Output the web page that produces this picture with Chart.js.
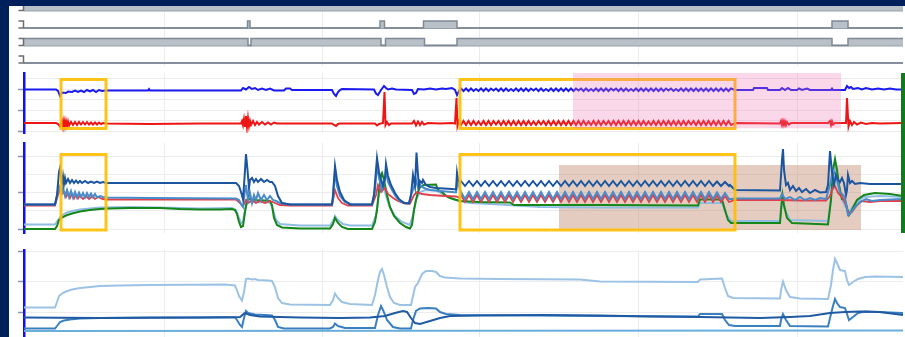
<!DOCTYPE html>
<html>
<head>
<meta charset="utf-8">
<script src="https://cdn.jsdelivr.net/npm/chart.js@4.4.1/dist/chart.umd.min.js"></script>
<style>
  html, body { margin: 0; padding: 0; }
  body { width: 905px; height: 337px; background: #00205b; position: relative; overflow: hidden; }
  #sheet { position: absolute; left: 9px; top: 6px; width: 896px; height: 331px; background: #fff; overflow: hidden; }
  .panel { position: absolute; left: 0; }
  #right_axis { position: absolute; left: 892px; top: 67px; width: 4px; height: 160px; background: #157a1a; }
</style>
</head>
<body>
<div id="sheet">
  <canvas id="chart_signals" class="panel" style="top:0px" width="896" height="62"></canvas>
  <canvas id="chart_rate" class="panel" style="top:64px" width="896" height="66"></canvas>
  <canvas id="chart_press" class="panel" style="top:132px" width="896" height="98"></canvas>
  <canvas id="chart_flow" class="panel" style="top:234px" width="896" height="110"></canvas>
  <div id="right_axis"></div>
</div>
<script>
// time axis (samples)
const timeMin = 0, timeMax = 879;
const gridTimes = [140, 298, 456, 614, 773];

// windows marked on the recording
const yellowWindows = [[37, 82], [436, 711]];
const pinkWindow = [549, 817];
const brownWindow = [535, 837];

// ---- panel 1: digital states, one row per signal ----
const rowOffsets = [52.5, 35, 17.5, 0];
const rowHeight = 7;
const sigRow0 = [[0, 1], [879, 1]];
const sigRow1 = [[0, 0], [223.5, 1], [226, 0], [356, 1], [360.5, 0], [399.5, 1], [433, 0], [808, 1], [824, 0], [879, 0]];
const sigRow2 = [[0, 1], [224, 0], [227, 1], [357, 0], [361.5, 1], [400.5, 0], [433, 1], [808, 0], [824, 1], [879, 1]];
const sigRow3 = [[0, 0], [879, 0]];

// ---- panel 2 ----
const p2Ticks = [0, 10.5, 21, 31.5, 42, 52.5];
const p2Major = [0, 21, 42];
const oscStart = 437;
const p2OscStep = 2.5;
const p2BluePre = [[0,41.5],[32,41.5],[34,40],[36,35],[38,38.5],[42,38],[44,39.5],[48,39],[51,40.5],[54,39],[57,40.5],[60,39],[63,41],[66,39.5],[69,41],[72,39],[75,41],[78,40],[82,40.5],[124,40.5],[125,42],[126,40.5],[217,40.5],[219,43],[222,41.5],[225,44],[228,42],[231,43],[234,41],[238,42.5],[242,41],[246,42.5],[250,40.5],[260,40.5],[262,42.5],[266,42.5],[268,41],[308,41],[310,37],[312,35],[314,39],[316,41],[318,42],[350,41.5],[352,37.5],[354,36],[357,41],[360,45],[362,43],[364,41.5],[368,42.5],[372,41.5],[388,41],[390,37],[392,38],[394,42],[400,41.5],[406,42.5],[412,41.5],[418,42.5],[422,42],[428,43],[431,41],[433,36],[435,40]];
const p2BlueOsc = [
  42.5,40,42.5,40,42.5,40,42,40,42.5,40,
  42.5,40,42.5,40.5,42.5,40,42.5,40,42.5,40,
  42,40,42.5,40,42.5,40,42.5,40,42.5,40.5,
  42.5,40,42.5,40,42,40,42.5,40,42.5,40,
  42.5,40,42.5,40,42.5,40,42.5,40.5,42.5,40,
  42.5,40,42,40,42.5,40,42.5,40,42.5,40,
  42.5,40.5,42.5,40,42.5,40,42.5,40,42,40,
  42.5,40,42.5,40,42.5,40,42.5,40,42.5,40,
  42.5,40,42.5,40.5,42.5,40,42,40,42.5,40,
  42.5,40,42.5,40,42.5,40,42.5,40,42.5,40,
  42.5,40,42.5,40,42.5,40,42.5,40,42.5];
const p2BluePost = [[711,41],[729,41],[730,43],[743,43],[744,41],[756,41],[758,43],[761,41],[764,43],[767,41],[773,41],[775,42.5],[778,41],[783,42.5],[786,41],[807,41],[808,42.5],[809,41],[821,41],[823,45],[825,43],[827,44],[829,42],[834,43],[838,41.5],[842,43],[848,41.5],[854,42.5],[860,41.5],[866,42.5],[872,41.5],[879,41.5]];
const p2RedPre = [[0,8],[32,8],[34,7],[36,4.5],[38,10],[39,4],[40,10.5],[41,4.5],[42,10],[43,5],[44,9.5],[45,5.5],[47,9],[49,6],[51,9],[53,6],[55,9],[57,6.5],[59,9],[61,6.5],[63,9],[65,6.5],[67,8.5],[69,6.5],[71,8.5],[73,6.5],[75,8.5],[77,7],[79,8],[82,7.5],[126,7],[176,7.5],[217,7.5],[218,10],[219,6],[220,12],[221,5],[222,15],[223,4],[224,13],[225,5],[226,10],[227,6],[229,10],[231,6],[233,9],[235,6.5],[238,9],[241,6.5],[244,8.5],[247,6.5],[250,8.5],[253,7.5],[308,7.5],[310,6],[312,5],[314,7],[316,7.5],[351,7.5],[353,5.5],[355,7],[359,8],[360.5,39],[361.5,6],[363,9],[365,6],[367,7.5],[388,7.5],[390,10],[392,5.5],[394,9.5],[396,6],[398,9],[400,6.5],[404,8],[416,7.5],[428,8],[431,7.5],[432.5,33],[433.5,5],[435,10]];
const p2RedOsc = [
  6,10,6,10,6,10,6,9.5,6,10,
  6,10,6,10,6.5,10,6,10,6,10,
  6,10,6,10,6,10,6,10,6,9.5,
  6,10,6.5,10,6,10,6,10,6,10,
  6,10,6,10,6,10,6,10,6,10,
  6,9.5,6,10,6,10,6,10,6.5,10,
  6,10,6,10,6,10,6,10,6,10,
  6,10,6,10,6,9.5,6,10,6,10,
  6,10,6,10,6,10,6,10,6,10,
  6,10,6.5,10,6,10,6,10,6,10,
  6,10,6,10,6,10,6,10,6];
const p2RedPost = [[711,8],[756,7.5],[757,10],[758,6],[759,10],[760,6],[761,9.5],[762,6],[763,9],[765,6.5],[767,8],[804,8],[806,10],[807,6],[808,9.5],[809,6.5],[811,8],[822,8],[823,33],[824.5,4.5],[826,10],[828,6],[830,9],[833,6.5],[837,8.5],[842,7],[848,8],[856,7.5],[879,8]];

// ---- panel 3 ----
const p3Ticks = [0, 18.25, 36.5, 54.75, 73];
const p3Major = [0, 36.5, 73];
const p3OscStep = 4;
const p3DarkPre = [[0,24.5],[31,24.5],[33,34],[35,57],[36,61],[37,54],[38,46],[39,53],[40,45],[41,51],[42,46],[44,50],[46,46],[48,49],[50,46],[52,48.5],[54,46],[56,48],[58,46],[61,48],[64,46],[67,47.5],[70,46],[73,47.5],[76,46],[79,47],[82,46],[212,46],[215,43],[217,37],[219,30],[220.5,51],[222,75],[223.5,59],[225,41],[226,49],[228,51],[230,47],[232,50],[234,47],[237,50],[240,47],[243,49],[246,47],[248,47],[251,43],[254,33],[258,26],[266,24.5],[308,24.5],[309,34],[311,63],[313,49],[316,37],[320,29],[326,24.5],[348,24.5],[350,34],[353,71],[355,57],[357,49],[359,43],[361,51],[362,65],[364,53],[367,44],[371,36],[375,30],[380,26],[385,25.5],[387,34],[389,54],[391,43],[392.5,76.5],[394,54],[395,43],[396,48],[398,46],[399,49],[402,44],[406,42],[412,41],[420,40.5],[428,40],[432,39.5],[433,56],[434,49],[436,46]];
const p3DarkOsc = [
  48,43,48,43,48,43,48,43,48,43,48,43,48,43,48,43,48,43,48,43,
  48,43,48,43,48,43,48,43,48,43,48,43,48,43,48,43,48,43,48,43,
  48,43,48,43,48,43,48,43,48,43,48,43,48,43,48,43,48,43,48,43,
  48,43,48,43,47.5,43,47,43];
const p3DarkPost = [[706,44],[711,39],[756,38.5],[758,69],[759,80],[760,59],[762,44],[764,46],[766,39],[769,43],[772,38],[775,41],[778,37],[782,40],[786,36],[791,39],[796,36.5],[802,37],[804,44],[806,78],[808,57],[810,44],[812,54],[814,49],[816,47],[818,51],[820,46],[822,34],[823,39],[824,54],[826,46],[828,48],[831,45],[836,46],[846,45],[879,45]];
const p3MidPre = [[0,24.5],[31,24.5],[33,33],[35,43],[36,41],[38,37],[39,41],[41,33],[43,39],[45,32],[47,38],[49,31.5],[51,37],[53,31.5],[55,36.5],[57,32],[59,36],[61,31.5],[63,36],[65,32],[67,35.5],[69,32],[71,35],[73,31.5],[76,33],[79,32],[82,31.5],[126,31],[212,30.5],[215,29],[217,25],[219,22],[221,39],[222,44],[224,29],[226,36],[228,26],[230,34],[232,29],[234,36],[237,29],[240,34],[243,29],[246,33],[249,29],[252,28],[256,26],[266,24.5],[308,24.5],[309,31],[311,57],[313,43],[316,33],[321,27],[328,24.5],[348,24.5],[351,39],[353,64],[355,51],[358,39],[361,49],[362,59],[364,47],[368,39],[372,32],[376,28],[381,26],[385,26],[387,34],[389,39],[392,49],[394,41],[396,44],[400,41],[406,39],[416,38],[428,37],[432,36.5],[434,49],[436,39]];
const p3MidOsc = [
  37,30,37,30,37,30,37,30,37,30,37,30,37,30,37,30,37,30,37,30,
  37,30,37,30,37,30,37,30,37,30,37,30,37,30,37,30,37,30,37,30,
  37,30,37,30,37,30,37,30,37,30,37,30,37,30,37,30,37,30,37,30,
  37,30,37,30,36.5,30,36,30];
const p3MidPost = [[708,30],[711,30.5],[756,30.5],[758,35],[761,30],[766,32],[771,29],[776,32],[781,29],[786,31],[791,29],[796,31],[802,30],[806,44],[809,59],[812,54],[816,37],[820,33],[822,26],[824,14],[826,15],[831,22],[836,27],[842,30],[848,28],[856,29],[879,30]];
const p3RedPre = [[0,23.5],[31,23.5],[34,34],[36,39],[38,35],[40,37],[42,32],[44,36],[46,31],[48,35],[50,30.5],[52,34],[54,30.5],[56,33.5],[59,30],[62,33],[65,30],[68,32.5],[71,30],[74,32],[78,30],[82,29.5],[212,29.5],[216,26],[219,23],[222,29],[224,26],[228,29],[232,26],[236,28],[241,26],[246,28],[251,26],[256,24],[266,23.5],[308,23.5],[311,39],[314,31],[318,26],[324,23.5],[348,23.5],[352,34],[354,44],[357,37],[361,41],[364,35],[369,31],[374,28],[381,25.5],[386,25.5],[390,34],[393,37],[398,35],[406,34],[421,33],[432,32.5],[436,31]];
const p3RedOsc = [
  34,27,34,27,34,27,34,27,34,27,34,27,34,27,34,27,34,27,34,27,
  34,27,34,27,34,27,34,27,34,27,34,27,34,27,34,27,34,27,34,27,
  34,27,34,27,34,27,34,27,34,27,34,27,34,27,34,27,34,27,34,27,
  34,27,34,27,33.5,27,33,27];
const p3RedPost = [[711,29],[756,29],[776,28.5],[802,28.5],[806,33],[810,45],[814,36],[818,32],[822,24],[824,16],[828,17],[833,24],[838,28],[846,27],[856,28],[879,28]];
const p3Green = [[0,0],[31,0],[33,3],[35,9],[38,11.5],[42,13.5],[48,15.5],[56,17.5],[66,19],[76,20],[86,20.5],[106,21],[136,21],[156,20],[176,19.5],[196,19.5],[208,20],[211,19],[213,15],[215,7],[217,2],[219,3],[221,17],[223,29],[225,30],[228,29.5],[232,29],[241,28.5],[246,28],[248,24],[250,11],[253,4],[258,1.5],[276,0.5],[306,0.5],[309,5],[311,11],[314,6],[318,2],[324,0],[348,0],[351,7],[353,19],[355,39],[357,54],[358,56],[360,49],[363,34],[366,22],[370,13],[376,6],[382,2],[386,0.5],[388,4],[390,19],[392,29],[394,37],[396,42],[400,44],[412,44.5],[414,39],[418,37],[422,33],[426,31],[431,29.5],[436,28],[456,27],[486,26.5],[490,24],[576,24],[674,23.5],[676,29.5],[698,29.5],[701,19],[704,9],[707,6],[756,6],[757,19],[758.5,34],[760,24],[763,11],[768,6],[804,4.5],[807,29],[809,59],[811,70],[813,59],[815,44],[818,30],[821,29],[823,21],[825,14],[828,19],[833,29],[840,34],[851,36],[866,35],[879,33]];
const p3Light = [[0,4.5],[31,4.5],[34,9],[37,13],[42,16],[48,18],[56,19.5],[66,20.5],[76,21.5],[106,22],[136,21.5],[176,20.5],[208,21],[212,19],[215,11],[217,6],[219,7],[221,19],[223,26],[226,27],[246,26.5],[249,19],[252,9],[256,5],[276,3.5],[306,3.5],[309,8],[311,13],[314,9],[319,5],[326,3.5],[348,3.5],[352,14],[355,34],[357,49],[359,47],[362,33],[366,21],[371,13],[378,7],[386,4],[389,14],[392,29],[396,37],[402,39],[412,38.5],[421,34],[431,29],[446,26],[476,24.5],[516,22],[576,21.5],[674,21.5],[676,26],[698,26],[702,15],[707,8],[756,8],[758,29],[760,21],[766,9],[804,8],[808,39],[811,59],[814,41],[818,29],[822,21],[825,17],[831,26],[840,32],[856,33],[879,32]];

// ---- panel 4 ----
const p4Ticks = [-30.5, 0, 30.5, 61];
const p4Major = [0, 30.5, 61];
const p4Light = [[0,4.5],[31,4.5],[33,10],[35,16],[38,18.5],[42,20.5],[48,22.5],[56,24],[66,25],[76,26],[96,26.5],[126,27],[201,27.5],[211,26.5],[213,22],[215,16],[218,11.5],[220,20],[222,33],[224,33.5],[228,32.5],[231,33],[234,32],[244,31.5],[248,31],[251,25],[254,14],[258,9],[266,7.5],[306,7],[309,12],[311,18.5],[314,14],[318,10],[326,8],[348,7],[351,17],[354,32],[356,40],[358,43],[360,37],[363,25],[366,15],[370,9],[376,7],[387,7],[389,16],[391,25],[394,29],[398,38],[402,41],[408,41],[412,40],[416,36],[421,34.5],[436,33.5],[476,33],[556,32.5],[576,30.5],[674,30],[676,32.5],[698,33.5],[701,24],[704,16],[709,14],[756,13.5],[757,22],[759,30.5],[762,22],[766,15],[776,13.5],[804,13],[807,27],[809,42],[811,53],[813,49],[816,42],[821,41],[823,32],[825,27],[829,30],[834,33],[841,35],[851,35.5],[879,35]];
const p4Dark = [[0,-5.5],[76,-6],[176,-5.5],[216,-5],[221,-1],[226,-3],[236,-4.5],[276,-5.5],[316,-6],[346,-5.5],[361,-4],[371,-1],[379,1],[383,0],[387,-6],[391,-11],[396,-12],[406,-9],[416,-6],[426,-4],[456,-3.5],[516,-3],[576,-3.5],[626,-4.5],[676,-5],[736,-6],[766,-5],[786,-4],[806,-1],[821,0],[836,0.5],[856,0],[879,-3]];
const p4Mid = [[0,-16.5],[31,-16.5],[33,-14],[36,-10],[40,-8.5],[46,-7.5],[56,-6.5],[76,-6],[126,-5.5],[211,-5.5],[213,-8],[216,-13],[218,-15],[220,-6],[222,1],[224,-1],[231,-2.5],[241,-3],[248,-3.5],[251,-8],[254,-15],[260,-16.5],[306,-16.5],[309,-15],[311,-11.5],[314,-14],[321,-16],[351,-16],[354,-3],[357,6],[359,2],[363,-8],[369,-15],[376,-16.5],[387,-16.5],[389,-8],[392,1],[396,3.5],[404,4],[412,3.5],[416,0],[422,-2],[436,-3],[516,-3.5],[576,-4],[674,-4.5],[676,-2],[698,-2],[701,-8],[705,-13],[711,-14],[756,-14],[757,-8],[759,-2],[762,-8],[766,-14],[804,-14.5],[807,-2],[809,6],[811,13],[813,9],[816,5],[821,4],[823,-2],[825,-8],[829,-5],[834,-1],[841,0.5],[879,-1]];
const p4Base = [[0,-19],[879,-18.5]];

// ---------- helpers ----------
const toPts = pairs => pairs.map(p => ({x: p[0], y: p[1]}));
function withOsc(pre, osc, step, post) {
  const pts = toPts(pre);
  osc.forEach((v, i) => pts.push({x: oscStart + i * step, y: v}));
  return pts.concat(toPts(post));
}
function lineSet(data, color, width) {
  return {data: data, borderColor: color, borderWidth: width || 2, pointRadius: 0, fill: false, tension: 0};
}

const gridGray = '#ececec';
const tickGray = '#8a94a6';
const axisBlue = '#1010f5';

function buildScales(yMin, yMax, yTicks, yMajor, axisColor) {
  return {
    x: {
      type: 'linear', min: timeMin, max: timeMax,
      afterBuildTicks: s => { s.ticks = gridTimes.map(v => ({value: v})); },
      afterFit: s => { s.height = 0; },
      ticks: {display: false},
      grid: {color: gridGray, drawTicks: false},
      border: {display: false}
    },
    y: {
      min: yMin, max: yMax,
      afterBuildTicks: s => { s.ticks = yTicks.map(v => ({value: v})); },
      afterFit: s => { s.width = 15; },
      ticks: {display: false},
      grid: {
        display: yTicks.length > 0,
        color: gridGray,
        tickLength: 6,
        tickWidth: 1.5,
        tickColor: c => (c.tick && yMajor.includes(c.tick.value)) ? tickGray : 'rgba(0,0,0,0)'
      },
      border: axisColor ? {display: true, color: axisColor, width: 2.5} : {display: false}
    }
  };
}

// boxes, shaded windows and row brackets drawn through the chart scales
function overlay(cfg) {
  function shade(chart, above) {
    const {ctx, chartArea: area, scales: {x, y}} = chart;
    ctx.save();
    ctx.beginPath();
    ctx.rect(area.left, area.top, area.width, area.height);
    ctx.clip();
    (cfg.shades || []).filter(s => !!s.above === above).forEach(s => {
      const xa = x.getPixelForValue(s.win[0]), xb = x.getPixelForValue(s.win[1]);
      const ya = y.getPixelForValue(s.top), yb = y.getPixelForValue(s.bottom);
      ctx.fillStyle = s.color;
      ctx.fillRect(xa, ya, xb - xa, yb - ya);
    });
    ctx.restore();
  }
  return {
    id: 'overlay',
    beforeDatasetsDraw(chart) { shade(chart, false); },
    afterDatasetsDraw(chart) {
      const {ctx, chartArea: area, scales: {x, y}} = chart;
      ctx.save();
      (cfg.brackets || []).forEach(off => {
        const y0 = y.getPixelForValue(off), y1 = y.getPixelForValue(off + rowHeight);
        const xr = area.left - 0.5;
        ctx.strokeStyle = '#6e6e6e';
        ctx.lineWidth = 1.5;
        ctx.beginPath();
        ctx.moveTo(xr - 5, y1); ctx.lineTo(xr, y1); ctx.lineTo(xr, y0); ctx.lineTo(xr - 5, y0);
        ctx.stroke();
      });
      ctx.beginPath();
      ctx.rect(area.left, area.top, area.width, area.height);
      ctx.clip();
      (cfg.boxes || []).forEach(b => {
        const xa = x.getPixelForValue(b[0]), xb = x.getPixelForValue(b[1]);
        const ya = y.getPixelForValue(b[3]), yb = y.getPixelForValue(b[2]);
        ctx.strokeStyle = 'rgba(255,190,0,0.9)';
        ctx.lineWidth = 3;
        ctx.strokeRect(xa, ya, xb - xa, yb - ya);
      });
      ctx.restore();
      shade(chart, true);
    }
  };
}

function makeChart(id, datasets, scales, padding, extra) {
  return new Chart(document.getElementById(id), {
    type: 'line',
    data: {datasets: datasets},
    options: {
      responsive: false,
      animation: false,
      devicePixelRatio: 1,
      events: [],
      layout: {padding: padding},
      scales: scales,
      plugins: {legend: {display: false}, tooltip: {enabled: false}}
    },
    plugins: [overlay(extra)]
  });
}

// ---------- panel 1: digital rows ----------
const sigRows = [sigRow0, sigRow1, sigRow2, sigRow3];
const signalSets = [];
sigRows.forEach((row, k) => {
  const off = rowOffsets[k];
  signalSets.push({
    data: row.map(p => ({x: p[0], y: off + p[1] * rowHeight})),
    stepped: 'before',
    borderColor: '#7f8995', borderWidth: 1.5, pointRadius: 0,
    backgroundColor: 'rgb(185,192,200)',
    fill: {value: off}
  });
  signalSets.push(lineSet([{x: timeMin, y: off}, {x: timeMax, y: off}], '#98a1ab', 1.8));
});
makeChart('chart_signals', signalSets,
  buildScales(-3, 57, [], [], null),
  {top: 0, bottom: 2, left: 0, right: 2},
  {brackets: rowOffsets});

// ---------- panel 2 ----------
makeChart('chart_rate', [
    lineSet(withOsc(p2BluePre, p2BlueOsc, p2OscStep, p2BluePost), '#1a1af0', 2),
    lineSet(withOsc(p2RedPre, p2RedOsc, p2OscStep, p2RedPost), '#ee1515', 2)
  ],
  buildScales(-2, 58, p2Ticks, p2Major, axisBlue),
  {top: 3, bottom: 3, left: 0, right: 2},
  {
    boxes: yellowWindows.map(w => [w[0], w[1], 2.5, 51.5]),
    shades: [{win: pinkWindow, top: 58, bottom: 2.7, color: 'rgba(240,110,180,0.28)', above: true}]
  });

// ---------- panel 3 ----------
makeChart('chart_press', [
    lineSet(withOsc(p3DarkPre, p3DarkOsc, p3OscStep, p3DarkPost), '#1b55a0', 2),
    lineSet(withOsc(p3MidPre, p3MidOsc, p3OscStep, p3MidPost), '#4a8bca', 2),
    lineSet(withOsc(p3RedPre, p3RedOsc, p3OscStep, p3RedPost), '#e0404a', 1.8),
    lineSet(toPts(p3Green), '#14861a', 2),
    lineSet(toPts(p3Light), '#8fbde3', 2)
  ],
  buildScales(-4, 86, p3Ticks, p3Major, axisBlue),
  {top: 5, bottom: 3, left: 0, right: 2},
  {
    boxes: yellowWindows.map(w => [w[0], w[1], -1, 74.5]),
    shades: [{win: brownWindow, top: 64, bottom: -1, color: 'rgba(190,135,105,0.42)', above: false}]
  });

// ---------- panel 4 ----------
makeChart('chart_flow', [
    lineSet(toPts(p4Dark), '#1f5aa3', 2),
    lineSet(toPts(p4Mid), '#3a7fc0', 2),
    lineSet(toPts(p4Light), '#9cc3e6', 2),
    lineSet(toPts(p4Base), '#6aaedb', 2)
  ],
  buildScales(-33, 62, p4Ticks, p4Major, axisBlue),
  {top: 10, bottom: 5, left: 0, right: 2},
  {});
</script>
</body>
</html>
